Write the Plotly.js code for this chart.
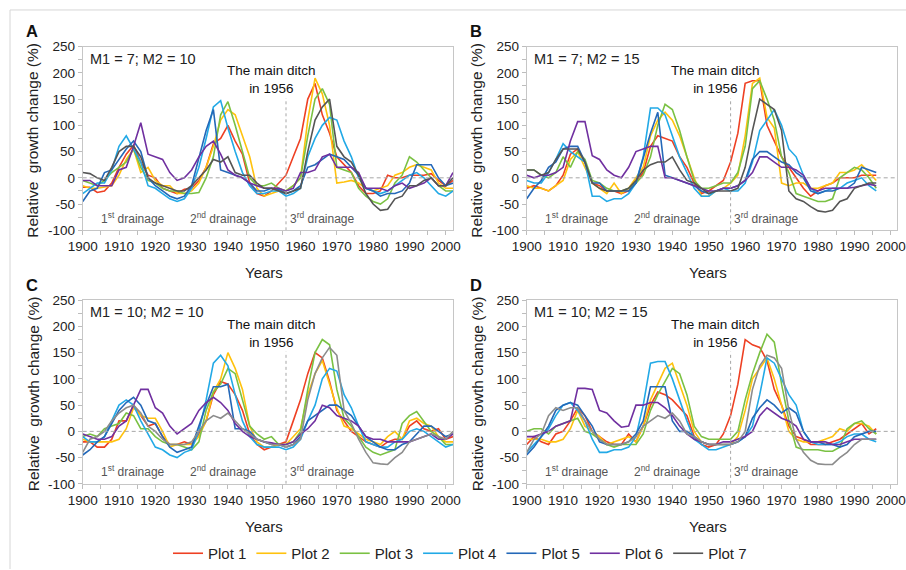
<!DOCTYPE html>
<html><head><meta charset="utf-8">
<script src="https://cdn.plot.ly/plotly-3.0.1.min.js"></script>
<style>html,body{margin:0;padding:0;background:#fff;} #chart{width:906px;height:570px;}</style>
</head><body><div id="chart"></div>
<script>
const yearsAC = [1900,1902,1904,1906,1908,1910,1912,1914,1916,1918,1920,1922,1924,1926,1928,1930,1932,1934,1936,1938,1940,1942,1944,1946,1948,1950,1952,1954,1956,1958,1960,1962,1964,1966,1968,1970,1972,1974,1976,1978,1980,1982,1984,1986,1988,1990,1992,1994,1996,1998,2000,2002];
const yearsBD = [1900,1902,1904,1906,1908,1910,1912,1914,1916,1918,1920,1922,1924,1926,1928,1930,1932,1934,1936,1938,1940,1942,1944,1946,1948,1950,1952,1954,1956,1958,1960,1962,1964,1966,1968,1970,1972,1974,1976,1978,1980,1982,1984,1986,1988,1990,1992,1994,1996];

const seriesNames = ['Plot 1','Plot 2','Plot 3','Plot 4','Plot 5','Plot 6','Plot 7'];
const seriesColors = ['#ee4023','#ffc20e','#7ac143','#22a9e6','#2468b8','#7030a0','#555555'];
const seriesColorsCD = ['#ee4023','#ffc20e','#7ac143','#22a9e6','#2468b8','#7030a0','#8c8c8c'];

// Panel A: M1 = 7; M2 = 10
const a1 = [-18,-18,-28,-25,-10,20,45,62,30,5,0,-20,-25,-30,-22,-20,-5,20,65,75,100,70,45,-10,-30,-35,-25,-10,5,40,75,150,180,120,85,40,25,10,-15,-30,-30,-25,5,0,0,5,5,5,8,-5,-15,-5];
const a2 = [-15,-20,-20,-18,-15,5,35,55,10,20,-5,-15,-15,-30,-30,-25,-10,20,60,110,130,120,80,40,-20,-35,-30,-25,-25,-15,0,110,190,160,100,-10,-8,-5,-10,-20,-25,-20,-15,5,10,20,25,20,15,-10,-20,-20];
const a3 = [-5,-10,-15,-5,10,20,30,55,20,-5,-10,-20,-25,-25,-30,-30,-28,0,40,120,145,100,50,0,-15,-15,-10,-20,-25,-15,0,80,150,170,140,20,15,10,-20,-35,-45,-50,-40,-10,5,40,30,15,0,-15,-25,-25];
const a4 = [-30,-20,-10,-10,15,60,80,55,30,-15,-20,-30,-40,-45,-40,-20,20,75,135,147,95,50,10,-15,-30,-30,-25,-25,-35,-30,-20,40,75,100,115,110,70,40,0,-20,-25,-30,-25,-15,-5,5,10,0,-15,-30,-35,-25];
const a5 = [-45,-25,-20,10,15,35,55,70,50,0,-15,-25,-35,-40,-35,-15,40,90,130,15,10,5,0,-10,-25,-25,-20,-22,-30,-25,-15,20,25,35,45,40,35,20,5,-20,-25,-35,-30,-30,-25,-10,25,25,25,0,-15,-10];
const a6 = [-5,-5,-15,-15,-15,15,20,60,105,45,40,35,10,-5,0,15,40,60,70,45,15,5,0,-10,-15,-20,-20,-20,-25,-20,10,10,15,40,45,20,20,20,10,-20,-20,-20,-25,-15,-10,-20,-15,-10,0,-15,-15,10];
const a7 = [10,8,0,-5,20,50,60,60,40,0,-10,-15,-20,-25,-25,-15,0,15,35,30,40,10,5,5,-10,-20,-20,-25,-30,-25,-20,50,110,135,150,60,40,30,5,-30,-50,-62,-60,-40,-35,-15,-15,-5,0,-15,-15,0];

// Panel B: M1 = 7; M2 = 15
const b1 = [-20,-15,-20,-25,-15,5,45,55,30,-10,-15,-25,-25,-30,-25,-10,10,60,80,75,70,40,20,-10,-30,-25,-15,-5,30,85,180,185,185,100,70,40,20,0,-20,-35,-25,-15,-10,0,0,0,5,5,5];
const b2 = [-15,-20,-20,-25,-15,-5,35,50,20,-10,-20,-30,-10,-30,-20,0,20,80,110,125,110,80,40,0,-35,-35,-25,-20,-10,5,80,180,190,115,95,-10,-15,-10,-10,-20,-20,-15,-10,10,10,15,25,10,-5];
const b3 = [15,15,5,0,10,40,20,50,35,-5,-10,-20,-25,-25,-20,-10,5,40,100,140,130,90,40,-5,-20,-20,-15,-10,-10,10,60,170,185,150,110,40,10,-30,-35,-40,-45,-45,-40,0,10,20,15,0,-20];
const b4 = [-5,-10,-10,10,35,65,50,40,30,-35,-35,-45,-40,-40,-30,-10,40,133,133,120,80,40,10,-20,-35,-35,-25,-20,-25,-25,-10,30,90,110,130,100,55,40,5,-20,-30,-25,-20,-20,-10,-5,0,-15,-25];
const b5 = [-40,-20,-5,20,30,55,60,60,30,-10,-10,-25,-25,-25,-25,-10,40,85,125,5,0,-5,-10,-15,-25,-30,-25,-20,-20,-15,-5,35,50,50,40,30,25,10,0,-25,-30,-25,-25,-20,-20,-10,20,15,10];
const b6 = [5,0,5,5,10,20,70,107,107,42,35,15,5,0,20,50,55,60,60,0,0,-5,-10,-15,-20,-25,-25,-20,-20,-15,-5,10,40,40,30,20,20,15,5,-20,-25,-20,-20,-20,-20,-18,-15,-12,-15];
const b7 = [15,15,5,10,35,55,55,55,30,-10,-20,-25,-25,-25,-20,-5,15,25,30,30,40,15,-5,-10,-20,-30,-25,-25,-25,-20,20,90,150,140,130,90,-25,-40,-45,-55,-63,-65,-62,-45,-40,-20,-15,-10,-10];

// Panel C: M1 = 10; M2 = 10
const c1 = [-20,-20,-30,-30,-15,20,20,50,30,10,15,-10,-25,-25,-20,-25,-5,20,70,95,90,70,40,-5,-25,-35,-30,-25,-20,20,60,110,150,140,95,40,20,0,-10,-20,-25,-30,-20,-15,-15,10,20,5,0,5,-15,-10];
const c2 = [-15,-20,-20,-20,-20,-15,5,45,30,25,25,0,-30,-25,-25,-25,-10,20,75,100,150,120,80,10,-20,-30,-30,-25,-25,-10,5,70,110,135,90,45,10,5,-5,-15,-20,-25,-10,0,-15,20,25,15,10,-10,-20,-20];
const c3 = [-10,-5,-10,5,10,15,35,30,5,5,-10,-20,-25,-25,-30,-35,-20,40,75,90,120,110,60,10,-5,-15,-10,-25,-25,-20,0,80,150,175,165,80,25,10,-10,-30,-40,-45,-40,-35,15,30,38,20,0,-10,-25,-25];
const c4 = [-10,-20,-20,-10,20,50,60,50,20,-5,-30,-35,-45,-50,-40,-35,0,60,130,145,125,70,20,-10,-25,-30,-30,-30,-35,-30,-15,20,50,100,120,115,70,45,10,-20,-25,-30,-30,-20,-15,0,5,0,-10,-20,-30,-25];
const c5 = [-45,-35,-20,-10,15,40,55,65,50,20,15,-10,-30,-40,-35,-30,10,50,85,85,90,5,5,0,-15,-20,-25,-25,-30,-25,-10,20,30,40,50,50,40,30,10,-10,-20,-30,-35,-35,-25,-20,-5,10,10,0,-10,-5];
const c6 = [-5,-10,-15,-15,-10,10,20,50,80,80,45,35,10,-5,5,15,40,55,65,55,40,15,0,-10,-15,-20,-22,-25,-25,-20,-5,5,20,50,45,30,25,20,10,-10,-15,-15,-20,-20,-20,-20,-15,-10,-5,-15,-15,-5];
const c7 = [-40,-15,-10,0,20,35,45,50,35,10,0,-15,-25,-25,-25,-20,0,20,30,25,35,20,5,-5,-15,-20,-25,-25,-30,-25,-15,60,110,140,160,145,40,15,-15,-40,-60,-62,-63,-50,-40,-20,-15,-10,-5,-10,-15,0];

// Panel D: M1 = 10; M2 = 15
const d1 = [-25,-10,-20,-25,-5,0,20,45,30,0,-10,-20,-25,-25,-5,-20,10,50,75,70,60,45,30,-10,-25,-30,-25,-5,30,90,175,165,160,135,80,50,10,-10,-15,-25,-25,-25,-20,-15,-5,5,15,-5,5];
const d2 = [-15,-15,-15,-20,-20,-15,5,40,10,0,-10,-25,-20,-15,-10,-20,10,60,90,120,130,90,50,0,-20,-25,-25,-25,-25,-10,40,100,120,140,100,50,0,-15,-20,-20,-20,-15,-10,5,0,15,15,10,-5];
const d3 = [0,5,5,-5,10,15,20,25,0,-5,-15,-25,-30,-25,-25,-25,-5,40,70,95,120,110,70,10,-10,-15,-15,-15,-15,0,60,110,150,185,170,90,20,-30,-35,-35,-35,-38,-38,-30,5,15,20,5,-5];
const d4 = [-40,-25,-10,5,30,50,55,40,20,-15,-40,-40,-35,-35,-30,-10,50,130,133,133,100,60,20,-15,-25,-35,-35,-30,-25,-20,-10,10,70,140,130,100,70,50,0,-20,-25,-25,-25,-20,-10,-5,-5,-15,-20];
const d5 = [-45,-30,-10,10,40,50,55,50,30,10,-20,-25,-25,-25,-20,-5,20,85,85,85,20,0,0,-10,-20,-25,-25,-25,-25,-20,-10,25,45,60,50,35,45,35,0,-20,-20,-25,-25,-30,-25,-10,-5,0,0];
const d6 = [-10,-10,-5,0,10,15,20,82,82,80,40,35,20,8,10,50,50,55,55,45,30,10,-5,-15,-20,-25,-25,-20,-20,-15,-10,0,30,45,35,25,20,10,-15,-20,-20,-20,-25,-25,-20,-15,-15,-15,-15];
const d7 = [-40,-15,-5,30,45,40,45,45,20,0,-15,-25,-25,-25,-20,-10,10,20,30,25,35,20,-5,-10,-20,-25,-25,-25,-25,-20,0,80,125,145,140,120,40,-15,-40,-55,-62,-63,-63,-50,-40,-25,-15,-15,-15];

const xTickVals = [1900,1910,1920,1930,1940,1950,1960,1970,1980,1990,2000];
const xTickText = ['1900','1910','1920','1930','1940','1950','1960','1970','1980','1990','2000'];
const yTickVals = [-100,-50,0,50,100,150,200,250];
const yTickText = ['-100','-50','0','50','100','150','200','250'];

const panelLetters = ['A','B','C','D'];
const panelParams = ['M1 = 7; M2 = 10','M1 = 7; M2 = 15','M1 = 10; M2 = 10','M1 = 10; M2 = 15'];
const ditchText = 'The main ditch<br>in 1956';
const drainageTexts = ['1<sup>st</sup> drainage','2<sup>nd</sup> drainage','3<sup>rd</sup> drainage'];
const yTitle = 'Relative  growth change (%)';
const xTitle = 'Years';

const W = 906, H = 570;
const FONT = 'Liberation Sans, Arial, Helvetica, sans-serif';
const px = v => v / W;
const py = v => 1 - v / H;

const panels = [
  {data:[a1,a2,a3,a4,a5,a6,a7], years:yearsAC, ax:'', dx:0, dy:0, xr:[1900,2002], colors:seriesColors},
  {data:[b1,b2,b3,b4,b5,b6,b7], years:yearsBD, ax:'2', dx:444, dy:0, xr:[1900,2001.7], colors:seriesColors},
  {data:[c1,c2,c3,c4,c5,c6,c7], years:yearsAC, ax:'3', dx:0, dy:254, xr:[1900,2002], colors:seriesColorsCD},
  {data:[d1,d2,d3,d4,d5,d6,d7], years:yearsBD, ax:'4', dx:444, dy:254, xr:[1900,2001.7], colors:seriesColorsCD}
];

const traces = [];
const layout = {
  width: W, height: H,
  margin: {l:0, r:0, t:0, b:0},
  paper_bgcolor: '#ffffff', plot_bgcolor: '#ffffff',
  font: {family: FONT, color: '#222222'},
  showlegend: true,
  legend: {orientation:'h', x: px(460), xanchor:'center', y: py(554), yanchor:'middle',
           font:{size:15, family: FONT, color:'#222'}, bgcolor:'rgba(0,0,0,0)', traceorder:'normal'},
  shapes: [
    {type:'line', xref:'paper', yref:'paper', x0:px(10), x1:px(906), y0:py(10), y1:py(10), line:{color:'#d6d6d6', width:1}},
    {type:'line', xref:'paper', yref:'paper', x0:px(10), x1:px(10), y0:py(10), y1:py(570), line:{color:'#d6d6d6', width:1}}
  ],
  annotations: []
};

panels.forEach((p, pi) => {
  const xa = 'x' + p.ax, ya = 'y' + p.ax;
  p.data.forEach((vals, si) => {
    traces.push({
      type:'scatter', mode:'lines', x:p.years, y:vals, xaxis:xa, yaxis:ya,
      name: seriesNames[si], legendgroup: seriesNames[si], showlegend: pi === 0,
      line:{color:p.colors[si], width:1.6}, hoverinfo:'x+y+name'
    });
  });
  const left = 82.7 + p.dx, right = (pi % 2 === 0 ? 453 : 897);
  const top = 46.7 + p.dy, bottom = 230.7 + p.dy;
  layout['xaxis' + p.ax] = {
    domain:[px(left), px(right)], range:p.xr, anchor:ya,
    tickmode:'array', tickvals:xTickVals, ticktext:xTickText,
    ticks:'outside', ticklen:4, tickcolor:'#bdbdbd', tickwidth:1,
    showline:true, mirror:true, linecolor:'#c6c6c6', linewidth:1,
    showgrid:false, zeroline:false, tickfont:{size:13.5, family:FONT, color:'#222'},
    minor:{tickmode:'linear', tick0:1900, dtick:5, ticks:'outside', ticklen:4, tickcolor:'#bdbdbd', showgrid:false},
    fixedrange:true
  };
  layout['yaxis' + p.ax] = {
    domain:[py(bottom), py(top)], range:[-100,250], anchor:xa,
    tickmode:'array', tickvals:yTickVals, ticktext:yTickText,
    ticks:'outside', ticklen:4, tickcolor:'#bdbdbd', tickwidth:1,
    showline:true, mirror:true, linecolor:'#c6c6c6', linewidth:1,
    showgrid:false, zeroline:false, tickfont:{size:13.5, family:FONT, color:'#222'},
    minor:{tickmode:'linear', tick0:-100, dtick:25, ticks:'outside', ticklen:4, tickcolor:'#bdbdbd', showgrid:false},
    fixedrange:true
  };
  layout.shapes.push(
    {type:'line', xref:xa, yref:ya, x0:p.xr[0], x1:p.xr[1], y0:0, y1:0, line:{color:'#a6a6a6', width:1, dash:'4px,3px'}},
    {type:'line', xref:xa, yref:ya, x0:1956, x1:1956, y0:-100, y1:152, line:{color:'#a6a6a6', width:1, dash:'3px,3px'}}
  );
  const A = (x, y, text, opts) => Object.assign({xref:'paper', yref:'paper', x:px(x + p.dx), y:py(y + p.dy), text:text, showarrow:false, xanchor:'center', yanchor:'middle'}, opts);
  layout.annotations.push(
    A(32, 31, '<b>' + panelLetters[pi] + '</b>', {font:{size:16.5, family:FONT, color:'#111'}}),
    A(88, 59, panelParams[pi], {xanchor:'left', font:{size:14.5, family:FONT, color:'#222'}}),
    A(271, 80, ditchText, {font:{size:13.5, family:FONT, color:'#111'}}),
    A(133, 218, drainageTexts[0], {font:{size:12, family:FONT, color:'#555'}}),
    A(223, 218, drainageTexts[1], {font:{size:12, family:FONT, color:'#555'}}),
    A(322, 218, drainageTexts[2], {font:{size:12, family:FONT, color:'#555'}}),
    A(33, 141, yTitle, {textangle:-90, font:{size:15.5, family:FONT, color:'#222'}}),
    A(264, 273, xTitle, {font:{size:15, family:FONT, color:'#222'}})
  );
});

Plotly.newPlot('chart', traces, layout, {staticPlot:true, displayModeBar:false});
</script></body></html>
